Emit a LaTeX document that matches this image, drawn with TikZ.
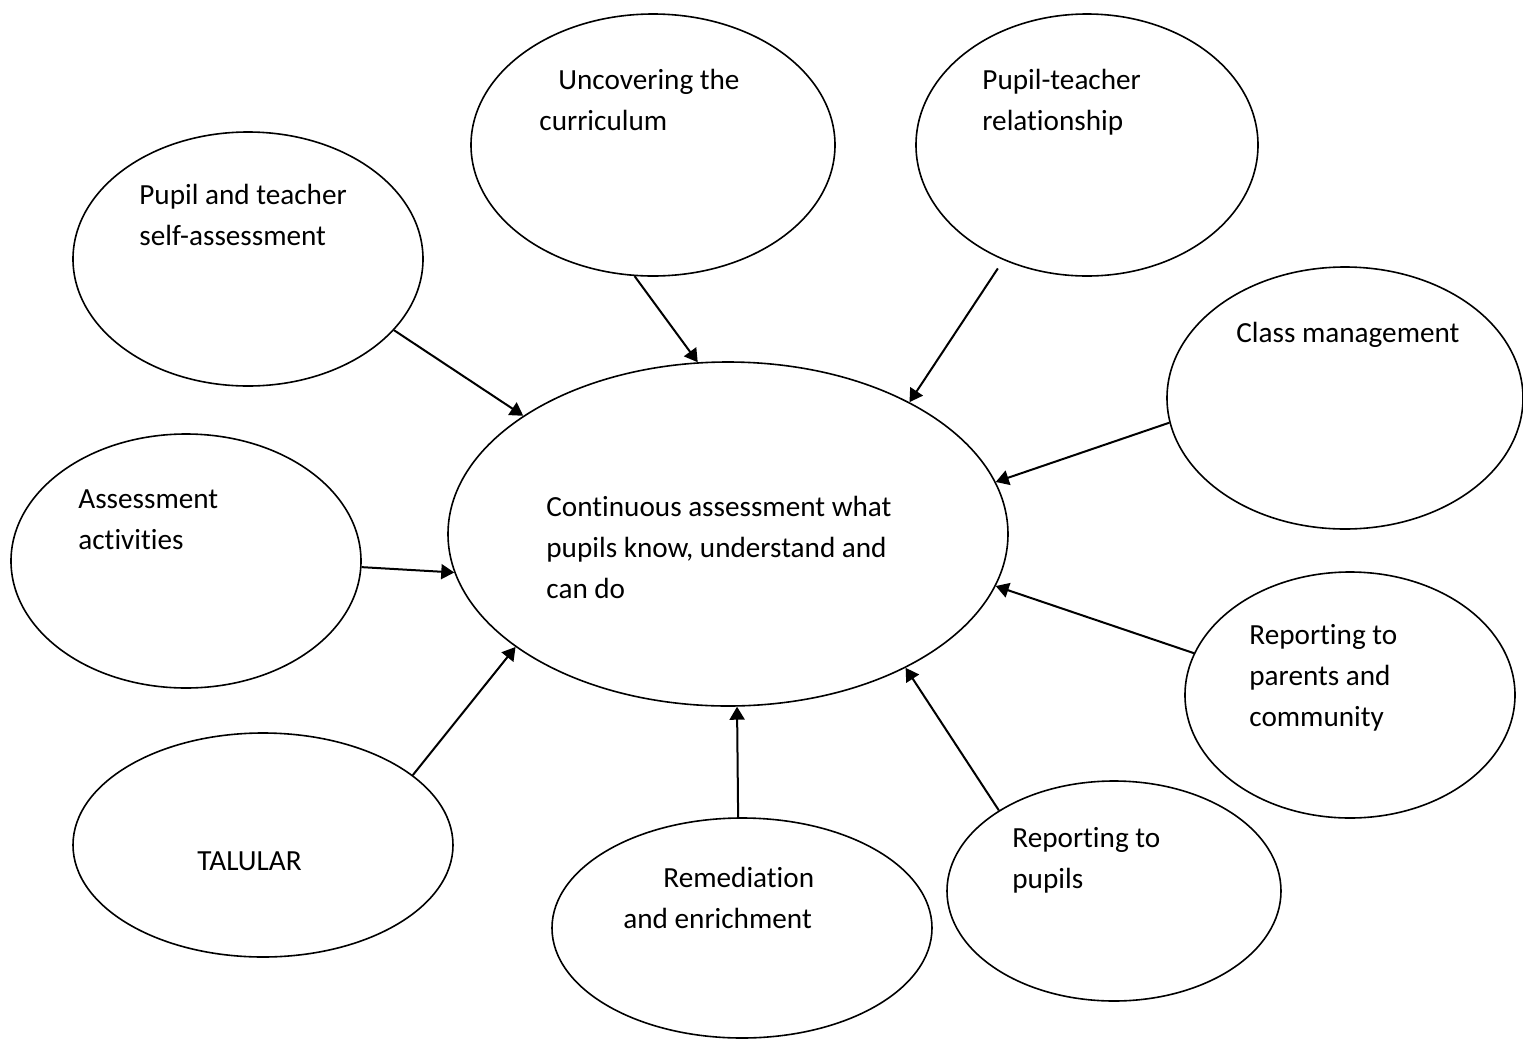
\documentclass[tikz,border=0pt]{standalone}
\usepackage{fontspec}
\setmainfont{Carlito}[Ligatures=NoCommon]
\usetikzlibrary{arrows.meta, positioning, shapes.geometric}
\tikzset{
    bubble/.style={draw, ellipse, line width=0.8pt, inner sep=0pt},
    % base anchor of a multi-line text sits on its last line
    txt/.style={anchor=base west, align=left, inner sep=0pt, font=\fontsize{14.6}{20.5}\selectfont},
    feed/.style={-{Triangle[length=6.5pt, width=7.5pt]}, line width=1pt},
}

\begin{document}
\begin{tikzpicture}[x=0.5pt, y=-0.5pt]
    \useasboundingbox (0,0) rectangle (1523,1040);

    % centre bubble
    \node[bubble, minimum width=280pt, minimum height=172pt] (centre) at (728,534) {};
    \node[txt] (centretxt) at (546,598) {Continuous assessment what\\pupils know, understand and\\can do};

    % bubbles round the centre
    \node[bubble, minimum width=175pt, minimum height=127pt] (selfas) at (248,259) {};
    \node[txt] (selfastxt) at (139,245) {Pupil and teacher\\self-assessment};

    \node[bubble, minimum width=182pt, minimum height=131pt] (uncover) at (653,145) {};
    \node[txt] (uncovertxt) at (539,130) {\hspace*{9.5pt}Uncovering the\\curriculum};

    \node[bubble, minimum width=171pt, minimum height=131pt] (relat) at (1087,145) {};
    \node[txt] (relattxt) at (982,130) {Pupil-teacher\\relationship};

    \node[bubble, minimum width=178pt, minimum height=131pt] (classm) at (1345,398) {};
    \node[txt] (classmtxt) at (1236,342) {Class management};

    \node[bubble, minimum width=175pt, minimum height=127pt] (activ) at (186,561) {};
    \node[txt] (activtxt) at (78,549) {Assessment\\activities};

    \node[bubble, minimum width=165pt, minimum height=123pt] (parents) at (1350,695) {};
    \node[txt] (parentstxt) at (1249,726) {Reporting to\\parents and\\community};

    \node[bubble, minimum width=190pt, minimum height=112pt] (talular) at (263,845) {};
    \node[txt] (talulartxt) at (197,870) {TALULAR};

    \node[bubble, minimum width=190pt, minimum height=110pt] (remed) at (742,928) {};
    \node[txt] (remedtxt) at (623,928) {\hspace*{20pt}Remediation\\and enrichment};

    \node[bubble, minimum width=167pt, minimum height=110pt] (pupils) at (1114,891) {};
    \node[txt] (pupilstxt) at (1012,888) {Reporting to\\pupils};

    % arrows into the centre
    \draw[feed] (selfas.-26.6) -- (centre.150.8);
    \draw[feed] (uncover.-98.6) -- (centre.100);
    \draw[feed, shorten <=5pt] (relat.-126) -- (centre.36);
    \draw[feed] (classm.188.6) -- (centre.11.4);
    \draw[feed] (activ.-2) -- (centre.188.4);
    \draw[feed] (parents.165) -- (centre.-11.2);
    \draw[feed] (talular.25.9) -- (centre.208.8);
    \draw[feed] (remed.92.5) -- (centre.-87);
    \draw[feed] (pupils.145.6) -- (centre.-37);
\end{tikzpicture}
\end{document}
